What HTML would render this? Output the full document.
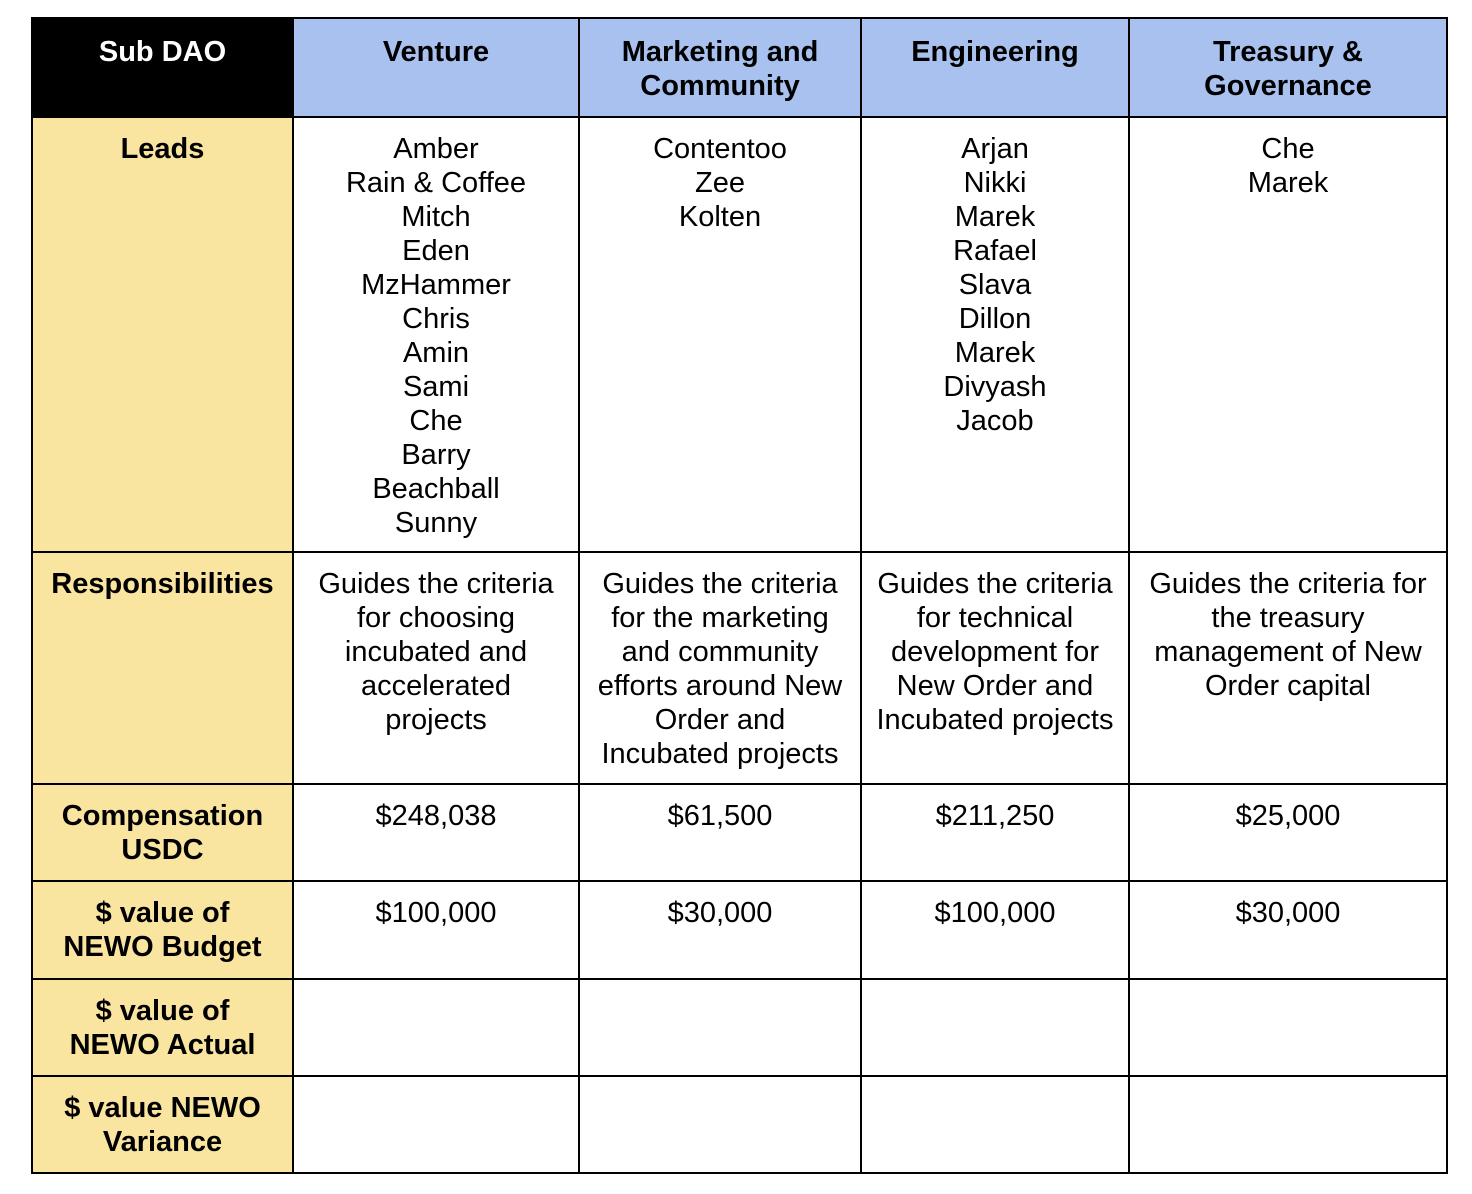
<!DOCTYPE html>
<html><head><meta charset="utf-8"><style>
body{margin:0;background:#fff;width:1472px;height:1194px;position:relative;font-family:"Liberation Sans",Arial,sans-serif;}
table{position:absolute;left:31px;top:17px;border-collapse:collapse;table-layout:fixed;}
td{border:2px solid #000;vertical-align:top;text-align:center;font-size:29px;line-height:34px;padding:14px 0 0 0;color:#000;box-sizing:border-box;white-space:nowrap;}
.h{background:#a8c1ee;font-weight:bold;}
.k{background:#000;color:#fff;font-weight:bold;}
.y{background:#f9e4a0;font-weight:bold;}
tr:first-child td{padding-top:16px;}
</style></head><body>
<table>
<colgroup><col style="width:261px"><col style="width:286px"><col style="width:282px"><col style="width:268px"><col style="width:318px"></colgroup>
<tr style="height:99px"><td class="k">Sub DAO</td><td class="h">Venture</td><td class="h">Marketing and<br>Community</td><td class="h">Engineering</td><td class="h">Treasury &amp;<br>Governance</td></tr>
<tr style="height:435px"><td class="y">Leads</td><td>Amber<br>Rain &amp; Coffee<br>Mitch<br>Eden<br>MzHammer<br>Chris<br>Amin<br>Sami<br>Che<br>Barry<br>Beachball<br>Sunny</td><td>Contentoo<br>Zee<br>Kolten</td><td>Arjan<br>Nikki<br>Marek<br>Rafael<br>Slava<br>Dillon<br>Marek<br>Divyash<br>Jacob</td><td>Che<br>Marek</td></tr>
<tr style="height:232px"><td class="y">Responsibilities</td><td>Guides the criteria<br>for choosing<br>incubated and<br>accelerated<br>projects</td><td>Guides the criteria<br>for the marketing<br>and community<br>efforts around New<br>Order and<br>Incubated projects</td><td>Guides the criteria<br>for technical<br>development for<br>New Order and<br>Incubated projects</td><td>Guides the criteria for<br>the treasury<br>management of New<br>Order capital</td></tr>
<tr style="height:97px"><td class="y">Compensation<br>USDC</td><td>$248,038</td><td>$61,500</td><td>$211,250</td><td>$25,000</td></tr>
<tr style="height:98px"><td class="y">$ value of<br>NEWO Budget</td><td>$100,000</td><td>$30,000</td><td>$100,000</td><td>$30,000</td></tr>
<tr style="height:97px"><td class="y">$ value of<br>NEWO Actual</td><td></td><td></td><td></td><td></td></tr>
<tr style="height:97px"><td class="y">$ value NEWO<br>Variance</td><td></td><td></td><td></td><td></td></tr>
</table>
</body></html>
